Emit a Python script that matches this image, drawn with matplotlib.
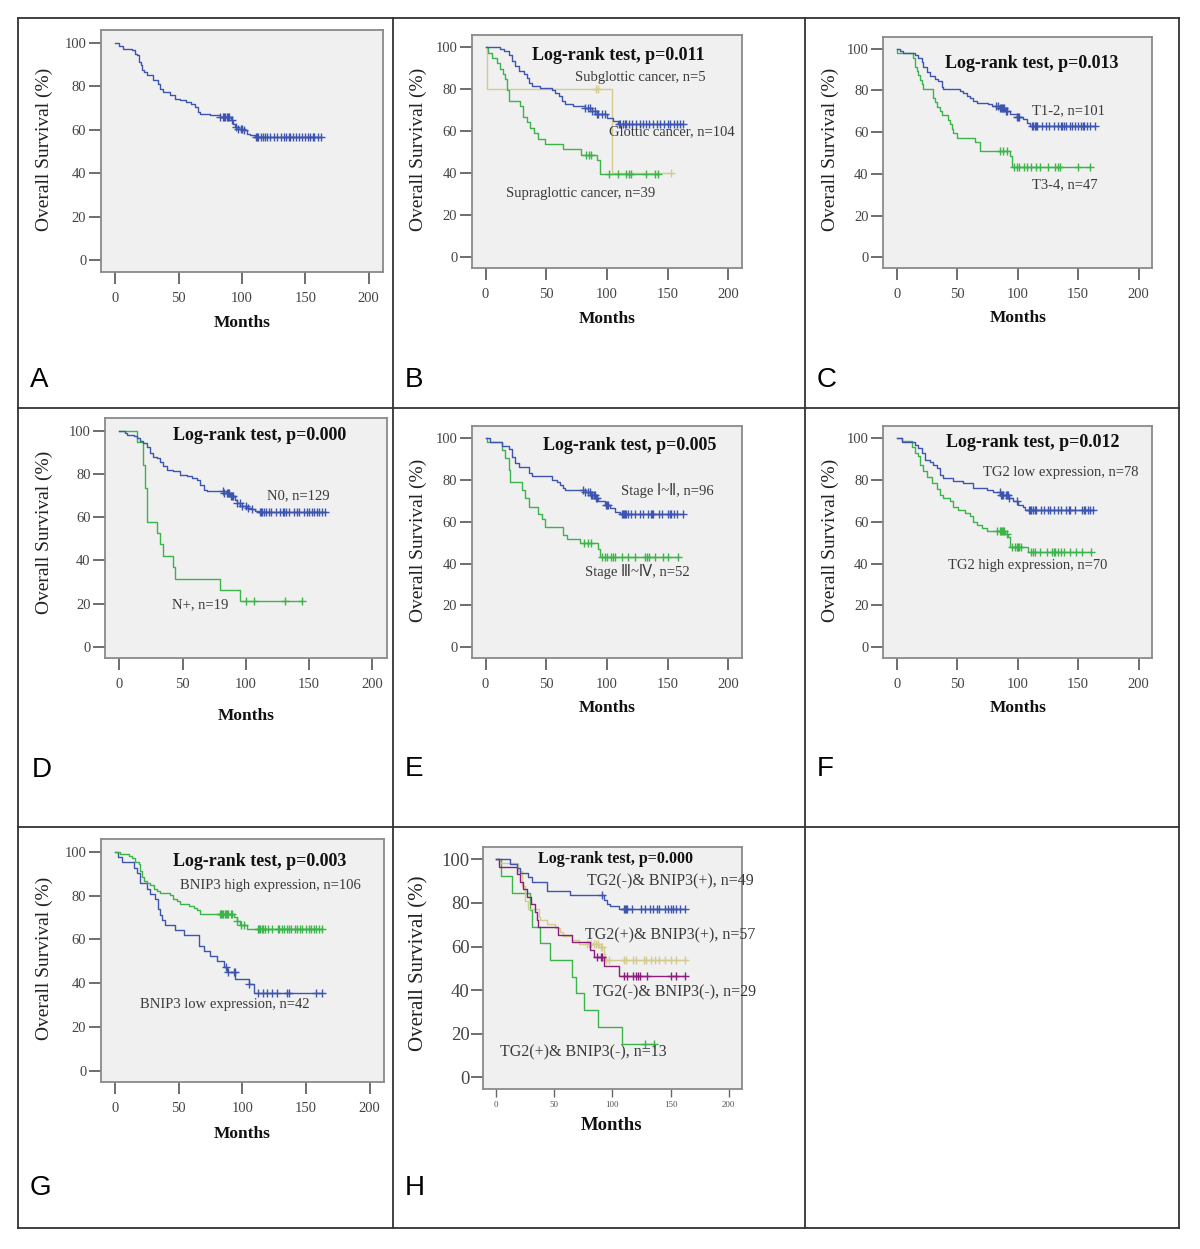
import numpy as np
import matplotlib
matplotlib.use("Agg")
import matplotlib.pyplot as plt
from matplotlib.lines import Line2D

# ---------------- DATA ----------------
# Panel A (overall)
A_t = [0, 3, 6, 13, 16, 17, 18.5, 20, 21, 22.5, 25, 30, 34, 35.5, 38, 43, 47, 51, 56, 60, 63, 65.5, 67, 75, 83, 91, 93, 94.5, 97, 101, 104, 106, 110]
A_s = [100, 98.5, 97.2, 96.5, 95, 94.2, 91.1, 89.6, 87.3, 86.5, 85, 82.7, 81.2, 78.8, 77.3, 75.8, 74.3, 73.5, 72.7, 72, 70.4, 68.1, 67.4, 66.6, 65.9, 64.3, 62.8, 61.2, 60.5, 59.7, 58.2, 57.4, 56.6]
A_c = [83, 85, 86, 87, 88, 89, 90, 92, 95, 97, 99, 100, 102, 111, 112, 113, 115, 117, 118, 120, 122, 125, 128, 131, 133, 135, 137, 138, 140, 143, 145, 147, 150, 152, 154, 156, 157, 160, 162.7]

# Panel B (tumour site)
B_glot_t = [0, 12, 14.8, 18.9, 21.6, 24.4, 27.2, 31.3, 34, 35.4, 38.1, 44.9, 54.6, 57.3, 60.1, 62.7, 65.5, 72.4, 82, 87.5, 91.6, 99.8, 105.3, 109.5]
B_glot_s = [100, 98.9, 98.1, 96.5, 93.3, 90.9, 88.6, 87, 85.4, 83, 81.7, 80.6, 79.8, 78.2, 76.6, 74.2, 72.7, 71.9, 71.1, 69.5, 67.9, 66.3, 64.7, 63.3]
B_glot_c = [82, 84, 86, 88, 90, 92, 93, 96, 98, 110, 111, 113, 115, 116, 118, 121, 124, 127, 130, 132, 135, 138, 141, 144, 147, 150, 152, 155, 158, 160, 163]
B_supra_t = [0, 2, 5, 9, 12, 14, 16, 18, 19.5, 28.5, 31, 34, 37, 40, 43.5, 49, 64, 79, 92, 94.5]
B_supra_s = [100, 97.4, 94.9, 92.3, 89.7, 87.2, 84.6, 79.5, 74.4, 71.8, 66.7, 64.1, 61.5, 59, 56.4, 53.8, 51.3, 48.7, 46.0, 39.3]
B_supra_c = [83, 85, 87, 102, 109, 116, 118, 120, 132, 140, 142.4]
B_sub_t = [0, 1, 104.5]
B_sub_s = [100, 80, 40]
B_sub_c = [91, 93, 152.8]

# Panel C (T stage)
C_t12_t = [0, 3, 5.5, 15, 17.8, 20.6, 22, 24.8, 27.5, 31.6, 34.4, 37.1, 38.5, 52.3, 55, 57.8, 60.5, 63.3, 66, 75.6, 78.4, 85, 89.4, 93.5, 99, 104.5, 107.3, 110]
C_t12_s = [100, 99.0, 97.9, 97.1, 95.5, 93.9, 91.5, 89.1, 87, 85.6, 84.6, 81.8, 80.6, 79.8, 78.7, 77.5, 76.3, 75, 74.2, 73.4, 72.4, 71.4, 70.3, 68.5, 67.4, 66.2, 64.6, 63.2]
C_t12_c = [82, 84, 85, 86, 87, 88, 89, 90, 91, 99, 100, 101, 112, 113, 114, 115, 116, 120, 123, 126, 130, 133, 136, 137, 138, 140, 143, 145, 147, 150, 152, 154, 155, 157, 160, 163.7]
C_t34_t = [0, 0.5, 13.7, 15.1, 16.5, 17.8, 19, 20.6, 22, 30.2, 31.6, 33, 35.7, 37.1, 42.6, 44, 45.4, 46.7, 49.5, 64.6, 68.8, 93.5, 94.9]
C_t34_s = [100, 97.9, 95.7, 91.5, 89.4, 87.2, 85.1, 83.0, 80.9, 76.6, 74.5, 72.3, 70.2, 68.1, 66.0, 63.8, 61.7, 59.6, 57.4, 55.3, 51.1, 48.5, 43.5]
C_t34_c = [85, 88, 91, 97, 99, 101, 105, 108, 111, 115, 118, 125, 131, 133, 135, 150, 159.6]

# Panel D (N stage)
D_n0_t = [0, 4.5, 5.8, 11.1, 13.8, 16.4, 19, 21.7, 24.3, 26.9, 29.6, 32.2, 34.8, 37.5, 42.7, 48, 53.3, 57.3, 61.3, 63.9, 66.5, 69.2, 82.3, 87.6, 91.6, 92.9, 95.5, 100.8, 104.7, 107.4, 110]
D_n0_s = [100, 99.2, 98.2, 97.4, 96.6, 95.1, 94.3, 92.7, 89.7, 88.1, 87.4, 85.8, 83.5, 82, 81.2, 79.6, 78.9, 78.1, 77.3, 75.1, 72.7, 72.3, 71.1, 69.6, 68.1, 66.6, 65, 64.3, 63.8, 63, 62.2]
D_n0_c = [82, 83, 85, 86, 87, 88, 89, 90, 93, 95, 97, 100, 102, 105, 111, 112, 113, 114, 116, 118, 120, 124, 127, 129, 130, 132, 134, 138, 140, 142, 146, 148, 150, 152, 154, 156, 158, 160, 162.8]
D_np_t = [0, 13.8, 19, 20.5, 21.5, 29.6, 32.2, 34.8, 42.7, 44, 79.1, 95]
D_np_s = [100, 94.7, 84.2, 73.7, 57.9, 52.6, 47.4, 42.1, 36.8, 31.6, 26.3, 21.1]
D_np_c = [100, 106, 131, 144.3]

# Panel E (clinical stage)
E_s12_t = [0, 3.8, 13.4, 18.9, 21.6, 24.4, 27.2, 35.4, 38.1, 54.6, 58.7, 61.4, 64.2, 65.5, 82, 86.1, 90.2, 93, 98.4, 102.6, 106.7, 110.8]
E_s12_s = [100, 98.1, 96.3, 94.7, 91.2, 88.3, 86.4, 83.3, 81.7, 80.1, 79.2, 77.7, 76.1, 75.3, 74.4, 72.9, 71.3, 69.7, 68.1, 66.5, 64.9, 63.8]
E_s12_c = [80, 82, 84, 86, 87, 88, 89, 90, 91, 92, 99, 100, 101, 112, 113, 114, 115, 116, 117, 120, 123, 127, 130, 134, 136, 137, 138, 143, 145, 150, 152, 153, 155, 158, 163]
E_s34_t = [0, 1, 13.4, 16.2, 18.9, 20.3, 29.9, 32.6, 35.4, 43.6, 46.3, 49.1, 64.2, 66.9, 77.9, 93, 94.3]
E_s34_s = [100, 98.1, 94.2, 90.4, 84.6, 78.8, 75.0, 71.2, 67.3, 63.5, 61.5, 57.7, 53.8, 51.9, 50.0, 47.0, 43.2]
E_s34_c = [81, 84, 87, 96, 98, 100, 103, 105, 107, 112, 117, 123, 131, 133, 135, 140, 146, 150, 158.8]

# Panel F (TG2)
F_low_t = [0, 4.1, 15.1, 17.8, 20.6, 23.4, 27.5, 30.2, 33, 35.7, 38.5, 46.7, 55, 63.2, 74.3, 79.7, 85.3, 92.1, 96.3, 100.4, 104.5, 105.9]
F_low_s = [100, 98.1, 96.8, 95.2, 92.8, 89.6, 88.8, 87.2, 85.6, 82.4, 80.9, 79.7, 78.5, 76.1, 75.3, 74.4, 72.9, 71.3, 69.7, 68.1, 66.9, 65.7]
F_low_c = [85, 86, 87, 88, 90, 91, 92, 93, 99, 109, 110, 111, 113, 114, 115, 119, 122, 125, 127, 130, 133, 136, 140, 142, 143, 147, 153, 155, 156, 158, 160, 162.3]
F_high_t = [0, 4.1, 12.4, 15.1, 17.8, 19.3, 22, 24.8, 28.9, 33, 35.7, 38.5, 44, 46.7, 50.9, 56.4, 60.5, 63.2, 66, 70.1, 74.3, 89.4, 92.1, 93.5, 108.6]
F_high_s = [100, 98.6, 95.7, 92.9, 91.4, 87.1, 84.3, 81.4, 78.6, 75.7, 72.9, 71.4, 70.0, 67.1, 65.7, 64.3, 62.9, 60.0, 58.6, 57.1, 55.7, 54.3, 52.8, 48.1, 45.7]
F_high_c = [83, 85, 86, 87, 88, 89, 91, 95, 98, 99, 100, 101, 103, 111, 113, 114, 118, 124, 128, 130, 131, 133, 136, 138, 143, 148, 153, 161]

# Panel G (BNIP3)
G_high_t = [0, 3.9, 10.5, 13.1, 15.7, 18.3, 19.7, 21, 22.3, 25, 27.5, 30.1, 32.8, 35.4, 43.2, 45.8, 48.5, 51.1, 57.6, 61.6, 64.2, 66.8, 93, 95.7, 98.3, 103.5]
G_high_s = [100, 99.1, 98.1, 97.2, 95.3, 94.3, 91.5, 88.7, 86.8, 85.8, 84.9, 83.0, 82.1, 81.1, 80.2, 78.3, 77.4, 76.4, 75.5, 74.5, 73.6, 71.7, 70.3, 68.3, 66.4, 64.9]
G_high_c = [82, 83, 84, 85, 86, 87, 88, 89, 91, 92, 96, 99, 101, 112, 113, 114, 115, 116, 118, 120, 123, 128, 129, 131, 133, 135, 137, 138, 141, 143, 145, 147, 150, 152, 154, 156, 158, 160, 162.5]
G_low_t = [0, 2, 5.2, 14.4, 17, 19.7, 25, 27.5, 31.5, 34, 35.4, 36.7, 39.3, 47.2, 53.7, 65.5, 69.4, 74.7, 79.9, 85.2, 88, 94.3, 104.8, 108.8]
G_low_s = [100, 97.6, 95.2, 92.9, 90.5, 85.7, 83.3, 81.0, 78.6, 73.8, 71.4, 69.0, 66.7, 64.3, 61.9, 57.1, 54.8, 52.4, 50.0, 47.6, 45.2, 42.1, 39.8, 35.7]
G_low_c = [87, 89, 93, 94, 105, 112, 116, 119, 123, 127, 135, 137, 158, 162.5]

# Panel H (TG2 x BNIP3)
H_nP_t = [0, 12.3, 18, 20.9, 28.1, 30.9, 43.8, 63.9, 92.5, 95.4, 98.3, 105.4]
H_nP_s = [100, 98, 95.9, 93.9, 91.8, 89.8, 85.7, 83.7, 81.4, 79.4, 78.5, 77.1]
H_nP_c = [91, 110, 111, 112, 113, 117, 125, 128, 132, 135, 138, 140, 145, 148, 150, 152, 155, 158, 162.7]
H_pP_t = [0, 3, 19.5, 22.3, 25.2, 28.1, 36.7, 38, 43.8, 51, 55.3, 58, 65.3, 71.1, 88.3, 92.6, 93.9]
H_pP_s = [100, 98.2, 94.7, 87.7, 80.7, 77.2, 73.7, 72.0, 70.2, 68.4, 66.7, 64.9, 63.2, 61.4, 59.6, 56.8, 53.8]
H_pP_c = [78, 80, 82, 84, 86, 88, 90, 91, 95, 97, 110, 112, 118, 120, 127, 129, 133, 137, 140, 145, 150, 155, 162.5]
H_nN_t = [0, 3, 18, 20.9, 23.8, 27, 30, 33.8, 35, 36.1, 53.8, 65.3, 81, 84, 92.6, 105.4]
H_nN_s = [100, 96.6, 93.1, 89.7, 86.2, 82.8, 79.3, 75.9, 72.4, 69.0, 65.5, 62.1, 58.6, 55.2, 51.1, 46.6]
H_nN_c = [87, 90, 91, 110, 113, 118, 120, 122, 124, 130, 150, 155, 162.5]
H_pN_t = [0, 4.6, 13.8, 29.5, 30.9, 38.1, 46.7, 65.3, 68.8, 75.4, 87.7, 108.3]
H_pN_s = [100, 92.3, 84.6, 76.9, 69.2, 61.5, 53.8, 46.2, 38.5, 30.8, 23.1, 15.4]
H_pN_c = [128.3, 135.5]

x_ticks = [0, 50, 100, 150, 200]
y_ticks = [0, 20, 40, 60, 80, 100]

# ---------------- STYLE ----------------
BLUE = "#3D55AE"
GREEN = "#3BB44A"
TAN = "#D6CB8E"
PURPLE = "#8C1D7C"
BG = "#F0F0F0"
SERIF = "Liberation Serif"
W, H = 1200, 1249

fig = plt.figure(figsize=(W / 100, H / 100), dpi=100)


def fx(x):
    return x / W


def fy(y):
    return 1 - y / H


def make_ax(l, t, r, b, big=False):
    ax = fig.add_axes([fx(l), fy(b), (r - l) / W, (b - t) / H])
    ax.set_facecolor(BG)
    ax.set_xlim(-11.2, 211.3)
    ax.set_ylim(-5.3, 105.8)
    ax.set_xticks(x_ticks)
    ax.set_yticks(y_ticks)
    for sp in ax.spines.values():
        sp.set_color("#8a8a8a")
        sp.set_linewidth(1.3)
    if big:
        ax.tick_params(axis="x", length=5.5, width=1.0, color="#666", labelcolor="#555",
                       labelsize=6.5, pad=3)
        ax.tick_params(axis="y", length=8.5, width=1.2, color="#555", labelcolor="#444",
                       labelsize=13.5, pad=1)
    else:
        ax.tick_params(axis="x", length=8.6, width=1.2, color="#555", labelcolor="#444",
                       labelsize=10.5, pad=5.5)
        ax.tick_params(axis="y", length=8.6, width=1.2, color="#555", labelcolor="#444",
                       labelsize=10.5, pad=2)
    for lab in ax.get_xticklabels() + ax.get_yticklabels():
        lab.set_fontfamily(SERIF)
    return ax


def km(ax, t, s, c, color):
    end = max(max(c), t[-1])
    tt = list(t) + [end]
    ss = list(s) + [s[-1]]
    ax.step(tt, ss, where="post", color=color, lw=1.0)
    t_arr = np.array(t)
    cs = [s[np.searchsorted(t_arr, ci, side="right") - 1] for ci in c]
    ax.plot(c, cs, ls="none", marker="+", ms=5.5, mew=1.0, color=color)


def txt(x, y, s, size=10.5, weight="normal", ha="left", color="#3a3a3a", family=None):
    fam = family if family else [SERIF, "DejaVu Sans", "Noto Sans CJK SC"]
    fig.text(fx(x), fy(y), s, fontsize=size, fontweight=weight, ha=ha, va="center",
             color=color, family=fam)


def ylab(x, y, size=14):
    fig.text(fx(x), fy(y), "Overall Survival (%)", rotation=90, ha="center", va="center",
             fontsize=size, family=SERIF, color="#222")


def xlab(x, y, size=12.5):
    fig.text(fx(x), fy(y), "Months", ha="center", va="center", fontsize=size,
             fontweight="bold", family=SERIF, color="#111")


def letter(x, y, s):
    fig.text(fx(x), fy(y), s, ha="left", va="baseline", fontsize=20,
             family="Liberation Sans", color="black")


# ---------------- PANELS ----------------
# A
axA = make_ax(101, 30, 383, 272)
km(axA, A_t, A_s, A_c, BLUE)
ylab(44, 149)
xlab(242, 323)
letter(30, 387, "A")

# B
axB = make_ax(472, 35, 742, 268)
km(axB, B_sub_t, B_sub_s, B_sub_c, TAN)
km(axB, B_supra_t, B_supra_s, B_supra_c, GREEN)
km(axB, B_glot_t, B_glot_s, B_glot_c, BLUE)
txt(618, 55, "Log-rank test, p=0.011", size=13, weight="bold", ha="center", color="#111")
txt(575, 77, "Subglottic cancer, n=5")
txt(608.7, 132, "Glottic cancer, n=104")
txt(506, 193.5, "Supraglottic cancer, n=39")
ylab(418, 149)
xlab(607, 319)
letter(405, 387, "B")

# C
axC = make_ax(883.3, 36.7, 1152.3, 268.3)
km(axC, C_t34_t, C_t34_s, C_t34_c, GREEN)
km(axC, C_t12_t, C_t12_s, C_t12_c, BLUE)
txt(1032, 63.3, "Log-rank test, p=0.013", size=13, weight="bold", ha="center", color="#111")
txt(1032, 111, "T1-2, n=101")
txt(1032, 184.3, "T3-4, n=47")
ylab(830, 149)
xlab(1018, 318.3)
letter(816.7, 387, "C")

# D
axD = make_ax(105.3, 418.3, 386.7, 658.3)
km(axD, D_np_t, D_np_s, D_np_c, GREEN)
km(axD, D_n0_t, D_n0_s, D_n0_c, BLUE)
txt(259.5, 435.7, "Log-rank test, p=0.000", size=13, weight="bold", ha="center", color="#111")
txt(266.7, 496, "N0, n=129")
txt(171.7, 605, "N+, n=19")
ylab(44, 532)
xlab(246, 715.7)
letter(31.7, 776.7, "D")

# E
axE = make_ax(472, 426, 742, 658.3)
km(axE, E_s34_t, E_s34_s, E_s34_c, GREEN)
km(axE, E_s12_t, E_s12_s, E_s12_c, BLUE)
txt(630, 445, "Log-rank test, p=0.005", size=13, weight="bold", ha="center", color="#111")
txt(621, 491, "Stage \u2160~\u2161, n=96")
txt(584.7, 571.7, "Stage \u2162~\u2163, n=52")
ylab(418, 540)
xlab(607, 707.7)
letter(405, 775.5, "E")

# F
axF = make_ax(883.3, 426, 1152.3, 658.3)
km(axF, F_high_t, F_high_s, F_high_c, GREEN)
km(axF, F_low_t, F_low_s, F_low_c, BLUE)
txt(1033, 442.3, "Log-rank test, p=0.012", size=13, weight="bold", ha="center", color="#111")
txt(982.7, 472.7, "TG2 low expression, n=78")
txt(948, 566, "TG2 high expression, n=70")
ylab(830, 540)
xlab(1018, 707.7)
letter(816.7, 775.5, "F")

# G
axG = make_ax(101, 839.3, 384, 1082.3)
km(axG, G_low_t, G_low_s, G_low_c, BLUE)
km(axG, G_high_t, G_high_s, G_high_c, GREEN)
txt(260, 861, "Log-rank test, p=0.003", size=13, weight="bold", ha="center", color="#111")
txt(180, 885.7, "BNIP3 high expression, n=106")
txt(140, 1004.3, "BNIP3 low expression, n=42")
ylab(44, 958)
xlab(242.5, 1134.3)
letter(30, 1195, "G")

# H
axH = make_ax(482.7, 846.7, 742, 1089, big=True)
km(axH, H_pN_t, H_pN_s, H_pN_c, GREEN)
km(axH, H_pP_t, H_pP_s, H_pP_c, TAN)
km(axH, H_nN_t, H_nN_s, H_nN_c, PURPLE)
km(axH, H_nP_t, H_nP_s, H_nP_c, BLUE)
txt(616, 859, "Log-rank test, p=0.000", size=11.5, weight="bold", ha="center", color="#111")
txt(587, 881.7, "TG2(-)& BNIP3(+), n=49", size=11.5)
txt(585.3, 935, "TG2(+)& BNIP3(+), n=57", size=11.5)
txt(592.7, 992.7, "TG2(-)& BNIP3(-), n=29", size=11.5)
txt(500.3, 1052.3, "TG2(+)& BNIP3(-), n=13", size=11.5)
ylab(418.5, 963, size=15)
xlab(612, 1126, size=13.5)
letter(405, 1195, "H")

# ---------------- GRID BORDERS ----------------
xs = [18, 392.5, 805, 1179]
ys = [18, 407.5, 827, 1228]
for xv in xs:
    fig.add_artist(Line2D([fx(xv), fx(xv)], [fy(ys[0]), fy(ys[-1])], color="#333", lw=1.3))
for yv in ys:
    fig.add_artist(Line2D([fx(xs[0]), fx(xs[-1])], [fy(yv), fy(yv)], color="#333", lw=1.3))

fig.savefig("out.png", dpi=100)
